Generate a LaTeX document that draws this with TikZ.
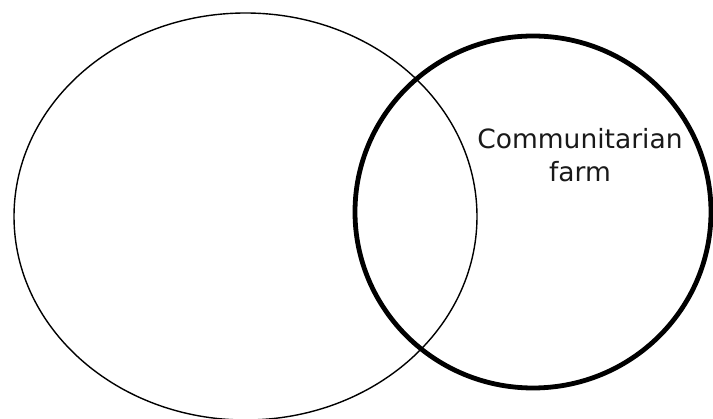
\documentclass[tikz,border=0pt]{standalone}
\usepackage{fontspec}
\setmainfont{DejaVu Sans}
\usetikzlibrary{shapes.geometric}
\begin{document}
\begin{tikzpicture}[x=1pt,y=-1pt,
  setA/.style={ellipse, draw=black, line width=1.4pt, minimum width=463pt, minimum height=407pt, inner sep=0pt, outer sep=0pt},
  setB/.style={ellipse, draw=black, line width=4.8pt, minimum width=356pt, minimum height=352pt, inner sep=0pt, outer sep=0pt},
  lbl/.style={align=center, inner sep=0pt, font=\fontsize{26.5}{33}\selectfont, text=black!90}]
\useasboundingbox (0,0) rectangle (713,419);
\node[setA] (left) at (245.5,216.5) {};
\node[setB] (right) at (533,212) {};
\node[lbl] (farm) at (580,155.5) {Communitarian\\farm};
\end{tikzpicture}
\end{document}
